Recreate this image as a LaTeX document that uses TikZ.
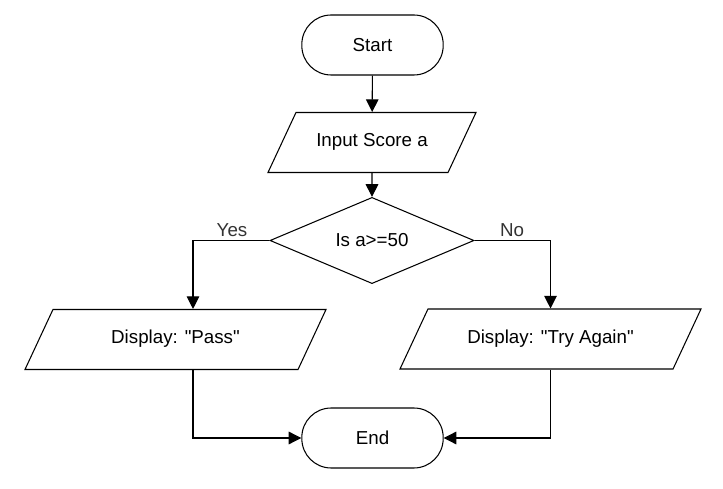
\documentclass[tikz,border=0pt]{standalone}
\usepackage{fontspec}
\setmainfont{Liberation Sans}
\usetikzlibrary{arrows.meta,positioning,calc,shapes.geometric}

\begin{document}
\begin{tikzpicture}[x=0.03cm,y=-0.03cm,>={Triangle[length=0.38cm,width=0.38cm]},
 font=\fontsize{16}{19}\selectfont,line width=0.9pt,
 term/.style={draw,rectangle,rounded corners=0.88cm,minimum width=4.24cm,minimum height=1.8cm,inner sep=0pt},
 io/.style={draw,trapezium,trapezium left angle=65,trapezium right angle=115,
   trapezium stretches body,text height=0.4cm,text depth=0.14cm,inner ysep=0.63cm,inner xsep=0pt},
 test/.style={draw,diamond,minimum width=6.12cm,minimum height=1.8cm,inner sep=0pt},
 lbl/.style={text=black!80}]
\useasboundingbox (0,0) rectangle (723,489);
% nodes
\node[term] (start) at (372.5,45) {Start};
\node[io,minimum width=6.24cm] (input) at (372,142.5) {Input Score a};
\node[test] (dec) at (372,240.5) {Is a>=50};
\node[io,minimum width=9.03cm] (pass) at (175.5,339.5) {Display: \textquotedbl Pass\textquotedbl};
\node[io,minimum width=9.03cm] (try) at (550.5,339) {Display: \textquotedbl Try Again\textquotedbl};
\node[term] (end) at (372.5,438) {End};
\coordinate (yes) at (193,240.5);
% edges
\draw[->] (start)--(input);
\draw[->] (input)--(dec);
\draw[->] (dec.west)--(yes)--(yes |- pass.north);
\draw[->] (dec.east)-|(try.north);
\draw[->] (yes |- pass.south)|-(end.west);
\draw[->] (try.south)|-(end.east);
% labels
\node[lbl] (ly) at (232,230) {Yes};
\node[lbl] (ln) at (512,230) {No};
\end{tikzpicture}
\end{document}
